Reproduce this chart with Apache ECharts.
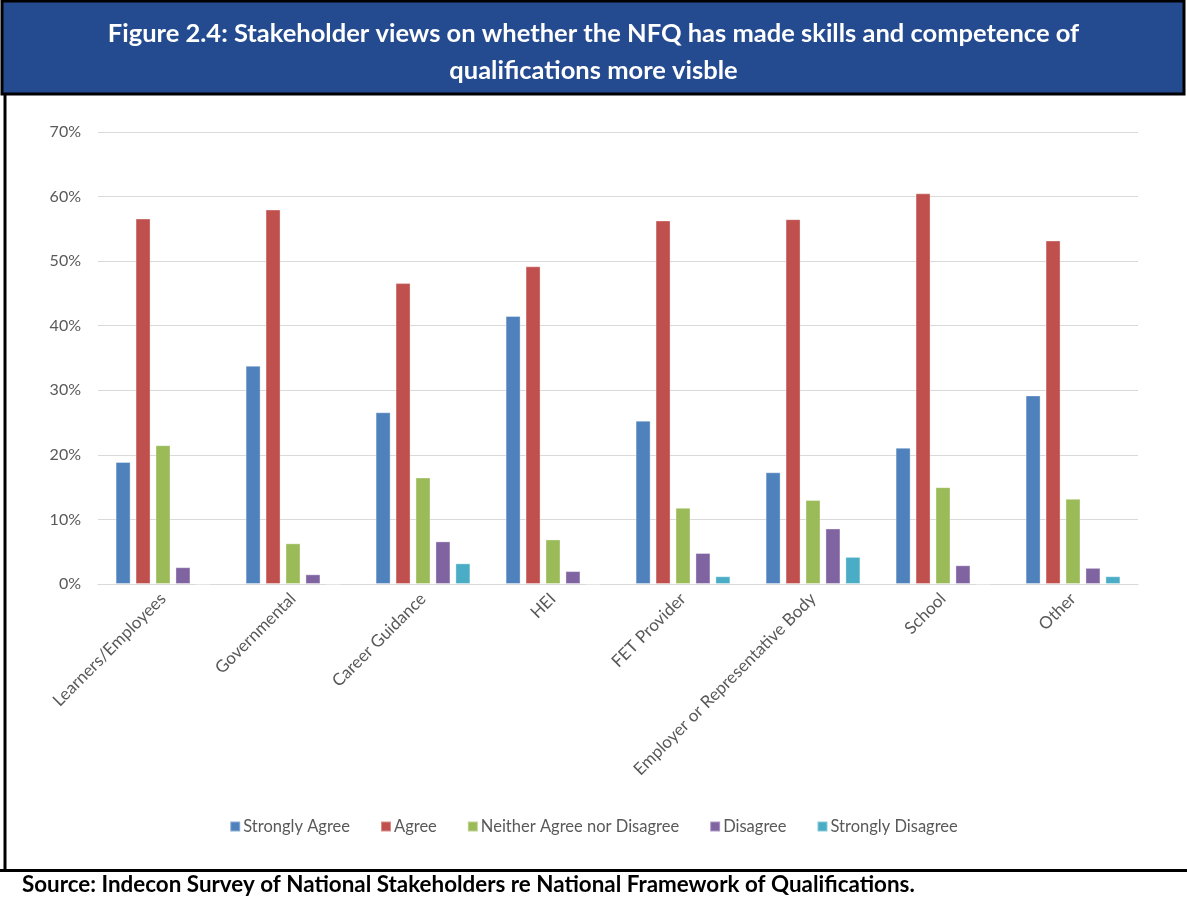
<!DOCTYPE html>
<html>
<head>
<meta charset="utf-8">
<script src="https://cdn.jsdelivr.net/npm/echarts@6/dist/echarts.min.js"></script>
<style>
  html, body { margin: 0; padding: 0; background: #ffffff; }
  #chart { width: 1187px; height: 899px; }
</style>
</head>
<body>
<div id="chart"></div>
<script>
// Stakeholder groups along the x axis
const categories = [
  'Learners/Employees', 'Governmental', 'Career Guidance', 'HEI',
  'FET Provider', 'Employer or Representative Body', 'School', 'Other'
];

// Share of respondents (%) per response option
const stronglyAgree    = [18.9, 33.8, 26.6, 41.5, 25.3, 17.3, 21.1, 29.2];
const agree            = [56.6, 58.0, 46.6, 49.2, 56.3, 56.5, 60.5, 53.2];
const neither          = [21.5,  6.3, 16.5,  6.9, 11.8, 13.0, 15.0, 13.2];
const disagree         = [ 2.6,  1.5,  6.6,  2.0,  4.8,  8.6,  2.9,  2.5];
const stronglyDisagree = [ 0,    0,    3.2,  0,    1.2,  4.2,  0,    1.2];

const seriesNames = ['Strongly Agree', 'Agree', 'Neither Agree nor Disagree', 'Disagree', 'Strongly Disagree'];
const seriesData  = [stronglyAgree, agree, neither, disagree, stronglyDisagree];
const colors      = ['#4f81bd', '#c0504d', '#9bbb59', '#8064a2', '#4bacc6'];

const titleText  = 'Figure 2.4: Stakeholder views on whether the NFQ has made skills and competence of\nqualifications more visble';
const sourceText = 'Source: Indecon Survey of National Stakeholders re National Framework of Qualifications.';

const FONT = 'Lato, "Open Sans", sans-serif';
const chart = echarts.init(document.getElementById('chart'), null, { renderer: 'canvas' });

chart.setOption({
  animation: false,
  color: colors,
  textStyle: { fontFamily: FONT },
  title: {
    text: titleText,
    left: 'center',
    top: 10,
    textStyle: { color: '#ffffff', fontSize: 25.5, fontWeight: 'bold', lineHeight: 37, fontFamily: FONT }
  },
  graphic: [
    // title band
    { type: 'rect', z: -1, shape: { x: 2, y: 1, width: 1182, height: 93 },
      style: { fill: '#244a8f', stroke: '#000000', lineWidth: 3 } },
    // left frame edge
    { type: 'line', shape: { x1: 5, y1: 94, x2: 5, y2: 871 }, style: { stroke: '#000000', lineWidth: 3 } },
    // separator above the source note
    { type: 'line', shape: { x1: 0, y1: 870.5, x2: 1187, y2: 870.5 }, style: { stroke: '#000000', lineWidth: 3 } },
    { type: 'text', left: 22, top: 874,
      style: { text: sourceText, fill: '#000000', font: 'bold 22.4px ' + FONT } }
  ],
  legend: {
    data: seriesNames,
    top: 813,
    left: 'center',
    itemWidth: 10,
    itemHeight: 10,
    itemGap: 30,
    icon: 'rect',
    textStyle: { color: '#595959', fontSize: 16.5, fontFamily: FONT, padding: [0, 0, 0, -2] }
  },
  grid: { left: 98, right: 49, top: 132, bottom: 315, containLabel: false },
  xAxis: {
    type: 'category',
    data: categories,
    axisLine: { lineStyle: { color: '#d9d9d9', width: 1 } },
    axisTick: { show: false },
    axisLabel: { rotate: 45, color: '#595959', fontSize: 17, fontFamily: FONT, margin: 12, interval: 0 }
  },
  yAxis: {
    type: 'value',
    min: 0,
    max: 70,
    interval: 10,
    axisLine: { show: false },
    axisTick: { show: false },
    splitLine: { lineStyle: { color: '#d9d9d9', width: 1 } },
    axisLabel: { formatter: '{value}%', color: '#595959', fontSize: 16, fontFamily: FONT, margin: 17 }
  },
  series: seriesNames.map((name, i) => ({
    name: name,
    type: 'bar',
    data: seriesData[i],
    barWidth: 15,
    barGap: '33%',
    barCategoryGap: '27%',
    itemStyle: { color: colors[i], borderColor: 'rgba(255,255,255,0.35)', borderWidth: 1 }
  }))
});
</script>
</body>
</html>
